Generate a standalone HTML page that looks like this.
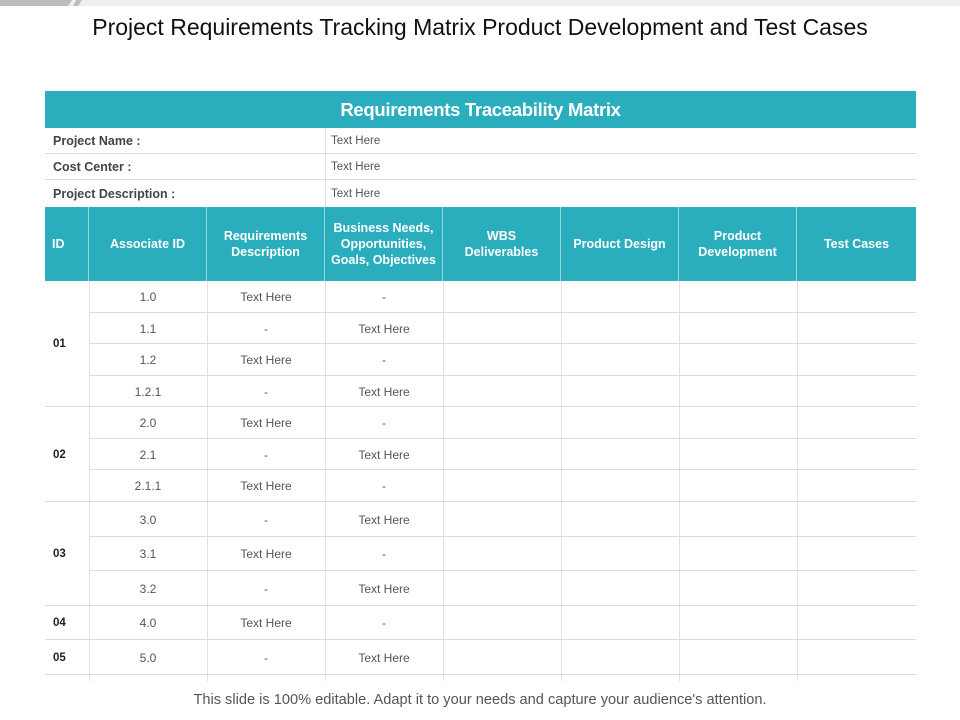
<!DOCTYPE html>
<html><head><meta charset="utf-8"><style>
body{margin:0;width:960px;height:720px;position:relative;background:#fff;font-family:"Liberation Sans",Arial,sans-serif;overflow:hidden}
.a{position:absolute;box-sizing:border-box}
.t{display:flex;align-items:center;justify-content:center;text-align:center}
.hl{position:absolute;height:1px;background:#dcdcdc}
.vl{position:absolute;width:1px;background:#e2e2e2}
.hd{position:absolute;background:#2aaebe;color:#fff;font-weight:bold;font-size:12.5px;line-height:16px;display:flex;align-items:center;justify-content:center;text-align:center;box-sizing:border-box;border-right:1px solid #9ad9e0;padding:0 10px}
.c{position:absolute;font-size:12px;color:#555;display:flex;align-items:center;justify-content:center}
</style></head><body>
<div class="a" style="left:0;top:0;width:960px;height:6px;background:#eeeeee"></div>
<svg class="a" style="left:0;top:0" width="90" height="8"><polygon points="0,0 72,0 68,6 0,6" fill="#bdbdbd"/><polygon points="76,0 82,0 78,6 73,6" fill="#bdbdbd"/></svg>
<div class="a t" style="left:0;top:11px;width:960px;height:32px;font-size:23px;color:#111;white-space:nowrap">Project Requirements Tracking Matrix Product Development and Test Cases</div>
<div class="a t" style="left:45px;top:91px;width:871px;height:37px;background:#2aaebe;color:#fff;font-weight:bold;font-size:18.5px;letter-spacing:-0.3px">Requirements Traceability Matrix</div>
<div id="tbl"></div>
<div class="a t" style="left:0;top:690px;width:960px;height:20px;font-size:14.6px;color:#555">This slide is 100% editable. Adapt it to your needs and capture your audience's attention.</div>
<script>
const infoLabels=["Project Name :","Cost Center :","Project Description :"];
const headers=["ID","Associate ID","Requirements Description","Business  Needs, Opportunities, Goals, Objectives","WBS Deliverables","Product Design","Product Development","Test Cases"];
const groups=["01","02","03","04","05"];
const groupSizes=[4,3,3,1,1];
const assocIds=["1.0","1.1","1.2","1.2.1","2.0","2.1","2.1.1","3.0","3.1","3.2","4.0","5.0"];
const reqDesc=["Text Here","-","Text Here","-","Text Here","-","Text Here","-","Text Here","-","Text Here","-"];
const bizNeeds=["-","Text Here","-","Text Here","-","Text Here","-","Text Here","-","Text Here","-","Text Here"];
const colX=[45,89,207,325,443,561,679,797,916];
const rowY=[281,313,344,376,407,439,470,502,537,571,606,640,675];
const T=document.getElementById('tbl');
function add(cls,style,text){const d=document.createElement('div');d.className=cls;d.setAttribute('style',style);if(text!==undefined)d.textContent=text;T.appendChild(d);return d;}
const infoY=[128,154,180,207];
infoLabels.forEach((l,i)=>{
 const a=add('c',`left:53px;top:${infoY[i]}px;width:260px;height:${infoY[i+1]-infoY[i]}px;justify-content:flex-start;font-weight:bold;color:#444;font-size:12.5px`,l);
 
 
 const b=add('c',`left:331px;top:${infoY[i]}px;width:300px;height:${infoY[i+1]-infoY[i]}px;justify-content:flex-start;font-size:11.5px`,"Text Here");
 
 
 if(i<2){const h=add('hl',`left:45px;top:${infoY[i+1]-1}px;width:871px`);}
});
const iv=add('vl',`left:325px;top:128px;height:79px`);


headers.forEach((h,i)=>{
 const d=add('hd',`left:${colX[i]}px;top:207px;width:${colX[i+1]-colX[i]}px;height:74px;${i==0?'justify-content:flex-start;padding-left:7px;':''}${i==3?'padding:0 6px;':''}${i==7?'border-right:none;':''}`,h);
 
 
});
for(let i=1;i<8;i++){const v=add('vl',`left:${colX[i]}px;top:281px;height:400px`);}
assocIds.forEach((a,r)=>{
 const y=rowY[r],h=rowY[r+1]-y;
 [[a,1],[reqDesc[r],2],[bizNeeds[r],3]].forEach(([t,c])=>{
  const d=add('c',`left:${colX[c]}px;top:${y}px;width:${colX[c+1]-colX[c]}px;height:${h}px`,t);
  
  
 });
 const l=add('hl',`left:89px;top:${rowY[r+1]-1}px;width:827px`);
 
 
});
let s=0;
groups.forEach((g,i)=>{
 const y0=rowY[s],y1=rowY[s+groupSizes[i]];
 const d=add('c',`left:53px;top:${y0}px;width:36px;height:${y1-y0}px;justify-content:flex-start;font-weight:bold;color:#222;font-size:11.5px`,g);
 
 
 const l=add('hl',`left:45px;top:${y1-1}px;width:44px`);
 
 
 s+=groupSizes[i];
});
</script>
</body></html>
